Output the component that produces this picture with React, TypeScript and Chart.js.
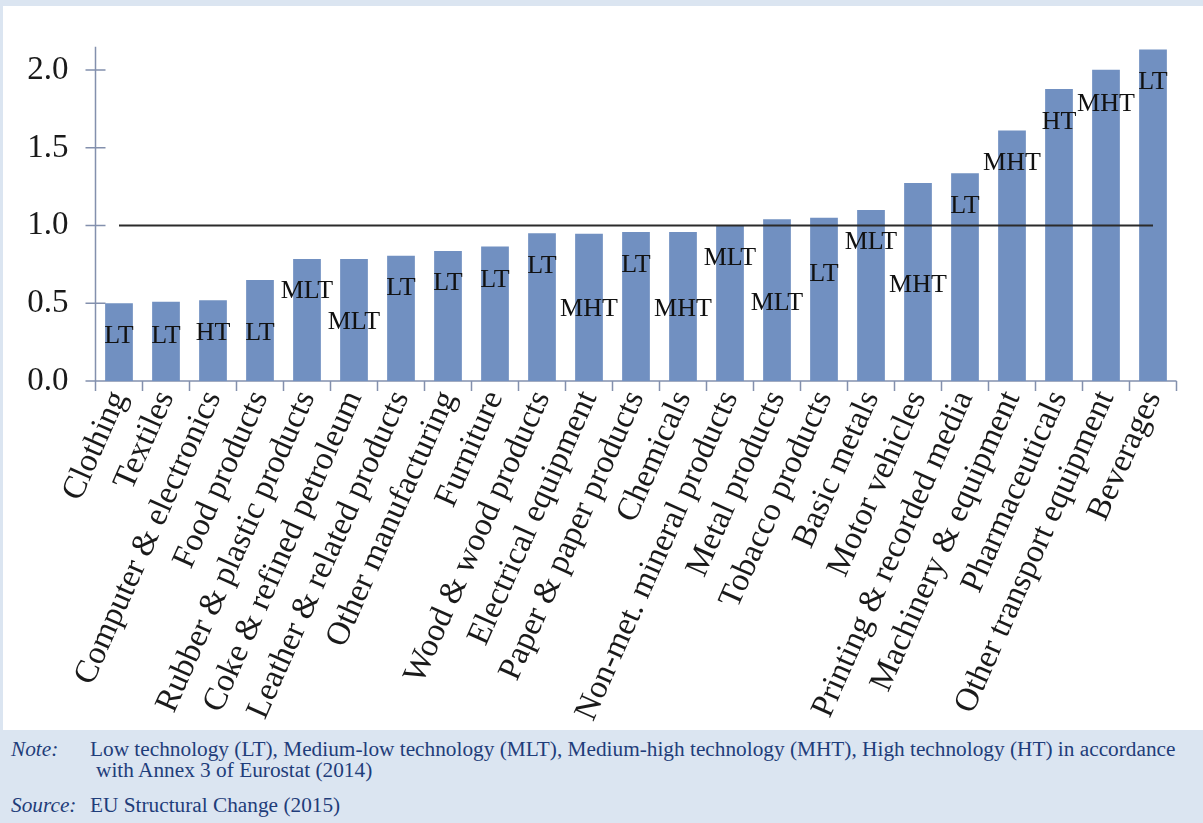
import React, { useEffect, useRef } from "react";
import { Chart, registerables } from "chart.js";

Chart.register(...registerables);

const categories = [
  "Clothing",
  "Textiles",
  "Computer & electronics",
  "Food products",
  "Rubber & plastic products",
  "Coke & refined petroleum",
  "Leather & related products",
  "Other manufacturing",
  "Furniture",
  "Wood & wood products",
  "Electrical equipment",
  "Paper & paper products",
  "Chemicals",
  "Non-met. mineral products",
  "Metal products",
  "Tobacco products",
  "Basic metals",
  "Motor vehicles",
  "Printing & recorded media",
  "Machinery & equipment",
  "Pharmaceuticals",
  "Other transport equipment",
  "Beverages",
];

const values = [
  0.5, 0.51, 0.52, 0.65, 0.785, 0.785, 0.806, 0.836, 0.866, 0.95, 0.948, 0.959,
  0.959, 0.997, 1.041, 1.05, 1.1, 1.274, 1.337, 1.611, 1.879, 2.002, 2.133,
];

const benchmark = [
  1, 1, 1, 1, 1, 1, 1, 1, 1, 1, 1, 1, 1, 1, 1, 1, 1, 1, 1, 1, 1, 1, 1,
];

const techClass = [
  "LT", "LT", "HT", "LT", "MLT", "MLT", "LT", "LT", "LT", "LT", "MHT", "LT",
  "MHT", "MLT", "MLT", "LT", "MLT", "MHT", "LT", "MHT", "HT", "MHT", "LT",
];

// vertical level (in data units) at which each class label sits
const labelLevel = [
  0.29, 0.29, 0.31, 0.31, 0.58, 0.38, 0.595, 0.627, 0.646, 0.741, 0.462, 0.747,
  0.462, 0.789, 0.503, 0.688, 0.895, 0.614, 1.124, 1.399, 1.662, 1.784, 1.922,
];

const yTickValues = [0, 0.5, 1.0, 1.5, 2.0];

const SERIF = '"Liberation Serif", "Times New Roman", serif';
const AXIS_COLOR = "#8390ad";

const axesPlugin = {
  id: "customAxes",
  beforeDatasetsDraw(chart: any) {
    const { ctx, chartArea, scales } = chart;
    const y = scales.y;
    const x = scales.x;
    ctx.save();
    ctx.strokeStyle = AXIS_COLOR;
    ctx.lineWidth = 1.5;
    ctx.beginPath();
    ctx.moveTo(chartArea.left, chartArea.top);
    ctx.lineTo(chartArea.left, chartArea.bottom);
    ctx.moveTo(chartArea.left, chartArea.bottom);
    ctx.lineTo(chartArea.right, chartArea.bottom);
    yTickValues.forEach((v) => {
      const py = y.getPixelForValue(v);
      ctx.moveTo(chartArea.left - 10, py);
      ctx.lineTo(chartArea.left + 10, py);
    });
    const n = categories.length;
    const step = x.getPixelForValue(1) - x.getPixelForValue(0);
    for (let i = 0; i <= n; i++) {
      const px = i < n ? x.getPixelForValue(i) - step / 2 : x.getPixelForValue(n - 1) + step / 2;
      ctx.moveTo(px, chartArea.bottom);
      ctx.lineTo(px, chartArea.bottom + 10);
    }
    ctx.stroke();
    ctx.restore();
  },
  afterDatasetsDraw(chart: any) {
    const { ctx, scales } = chart;
    ctx.save();
    ctx.fillStyle = "#111111";
    ctx.font = `26px ${SERIF}`;
    ctx.textAlign = "center";
    ctx.textBaseline = "middle";
    techClass.forEach((t, i) => {
      const px = scales.x.getPixelForValue(i);
      const py = scales.y.getPixelForValue(labelLevel[i]);
      ctx.fillText(t, px, py);
    });
    ctx.restore();
  },
};

export default function App() {
  const canvasRef = useRef<HTMLCanvasElement | null>(null);

  useEffect(() => {
    if (!canvasRef.current) return;
    const chart = new Chart(canvasRef.current, {
      type: "bar",
      data: {
        labels: categories,
        datasets: [
          {
            type: "line",
            label: "Benchmark",
            data: benchmark,
            borderColor: "#2b2b2b",
            borderWidth: 2,
            pointRadius: 0,
            fill: false,
            order: 0,
          } as any,
          {
            type: "bar",
            label: "Ratio",
            data: values,
            backgroundColor: "#7190c1",
            borderWidth: 0,
            categoryPercentage: 1,
            barPercentage: 0.59,
            order: 1,
          },
        ],
      },
      options: {
        animation: false,
        responsive: false,
        devicePixelRatio: 1,
        layout: { padding: { top: 42.4, right: 26.5, left: 0, bottom: 0 } },
        plugins: {
          legend: { display: false },
          tooltip: { enabled: false },
          title: { display: false },
        },
        scales: {
          x: {
            offset: true,
            grid: { display: false, drawTicks: false },
            border: { display: false },
            ticks: {
              autoSkip: false,
              minRotation: 66,
              maxRotation: 66,
              padding: 4,
              color: "#1a1a1a",
              font: { family: SERIF, size: 33 },
            },
            afterFit: (scale: any) => {
              scale.height = 349;
            },
          },
          y: {
            min: 0,
            max: 2.15,
            grid: { display: false, drawTicks: false },
            border: { display: false },
            ticks: {
              includeBounds: false,
              padding: 27,
              color: "#1a1a1a",
              font: { family: SERIF, size: 33 },
              callback: (v: any) => Number(v).toFixed(1),
            },
            afterBuildTicks: (scale: any) => {
              scale.ticks = yTickValues.map((v) => ({ value: v }));
            },
            afterFit: (scale: any) => {
              scale.width = 95.5;
            },
          },
        },
      },
      plugins: [axesPlugin],
    });
    return () => chart.destroy();
  }, []);

  const noteStyle: React.CSSProperties = {
    position: "absolute",
    fontFamily: SERIF,
    fontSize: 21.3,
    lineHeight: "21px",
    color: "#1f3d7a",
    whiteSpace: "nowrap",
  };

  return (
    <div
      style={{
        position: "absolute",
        left: 0,
        top: 0,
        width: 1203,
        height: 823,
        background: "#dbe5f1",
        overflow: "hidden",
      }}
    >
      <div
        style={{
          position: "absolute",
          left: 3,
          top: 6,
          width: 1200,
          height: 724,
          background: "#ffffff",
        }}
      />
      <canvas
        ref={canvasRef}
        width={1203}
        height={730}
        style={{ position: "absolute", left: 0, top: 0, width: 1203, height: 730 }}
      />
      <div style={{ ...noteStyle, left: 11, top: 739.4, fontStyle: "italic" }}>Note:</div>
      <div style={{ ...noteStyle, left: 90, top: 739.4 }}>
        Low technology (LT), Medium-low technology (MLT), Medium-high technology (MHT), High
        technology (HT) in accordance
      </div>
      <div style={{ ...noteStyle, left: 96, top: 760.4 }}>with Annex 3 of Eurostat (2014)</div>
      <div style={{ ...noteStyle, left: 11, top: 795.4, fontStyle: "italic" }}>Source:</div>
      <div style={{ ...noteStyle, left: 90, top: 795.4 }}>EU Structural Change (2015)</div>
    </div>
  );
}
